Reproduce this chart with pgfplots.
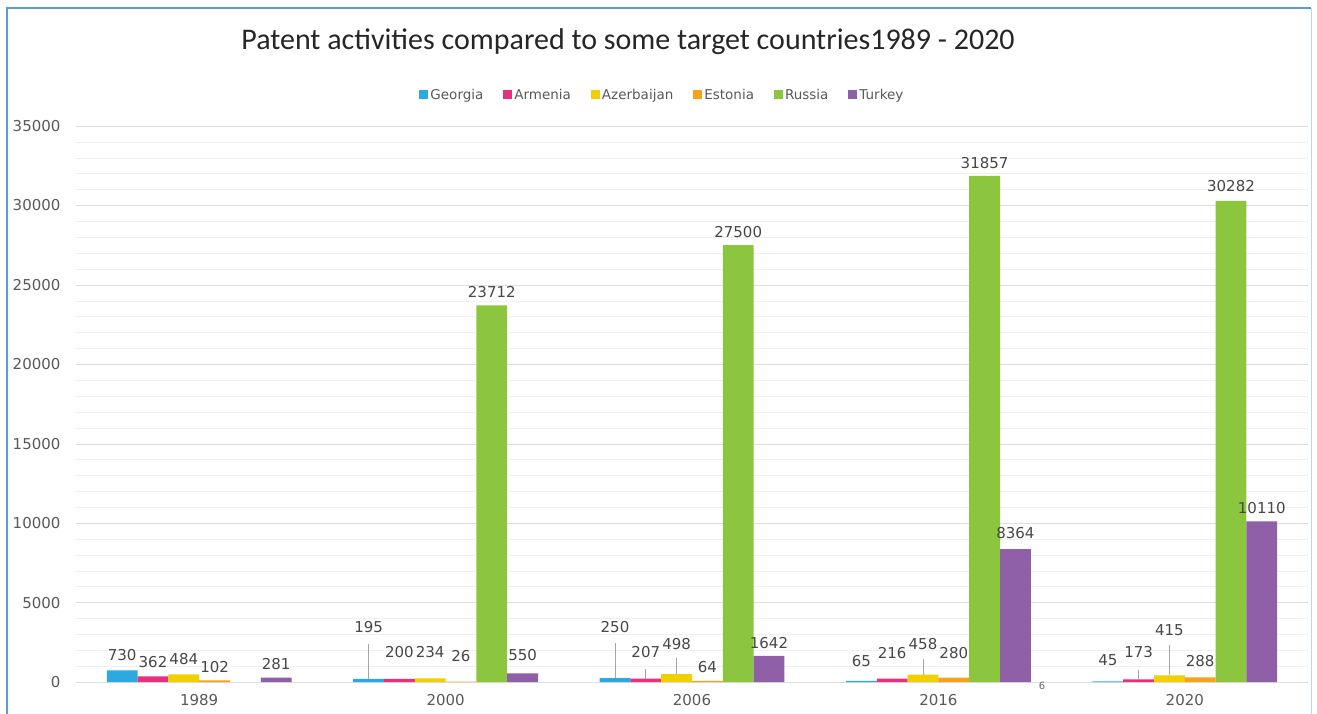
\documentclass[border=0pt]{standalone}
\usepackage{pgfplots}
\pgfplotsset{compat=1.18}
\usepackage{pgfplotstable}
\usepackage{fontspec}
\setmainfont{DejaVu Sans}
\newfontfamily\titlefont{Carlito}

\definecolor{cGeo}{HTML}{2CA9E1}
\definecolor{cArm}{HTML}{E6317E}
\definecolor{cAze}{HTML}{F0D000}
\definecolor{cEst}{HTML}{F7A21B}
\definecolor{cRus}{HTML}{8CC63F}
\definecolor{cTur}{HTML}{8F5FA8}
\definecolor{cFrame}{HTML}{5B9BD5}

% x y dy(label shift, pt) ll(leader line length, data units)
\pgfplotstableread{
x y dy ll
0 730 2 0
1 195 39 2200
2 250 38 2200
3 65 7 0
4 45 8 0
}\geo
\pgfplotstableread{
x y dy ll
0 362 1 0
1 200 14 0
2 207 13 600
3 216 12 0
4 173 14 600
}\arm
\pgfplotstableread{
x y dy ll
0 484 2 0
1 234 13 0
2 498 17 1000
3 458 17 1000
4 415 32 1900
}\aze
\pgfplotstableread{
x y dy ll
0 102 0 0
1 26 12 0
2 64 1 0
3 280 11 0
4 288 3 0
}\est
\pgfplotstableread{
x y dy ll
1 23712 0 0
2 27500 0 0
3 31857 0 0
4 30282 2 0
}\rus
\pgfplotstableread{
x y dy ll
0 281 0 0
1 550 5 0
2 1642 0 0
3 8364 3 0
4 10110 0 0
}\tur

\begin{document}
\begin{tikzpicture}
\useasboundingbox (0pt,0pt) rectangle (1317pt,713pt);
\fill[white] (0pt,0pt) rectangle (1317pt,713pt);
\draw[cFrame, line width=1.5pt] (7pt,-5pt) -- (7pt,705pt) -- (1311pt,705pt);
\draw[cFrame!40, line width=1pt] (1311pt,705pt) -- (1311pt,-5pt);
\node[font=\titlefont\fontsize{30}{34}\selectfont, text=black!85] at (628pt,671pt) {Patent activities compared to some target countries1989 - 2020};
\begin{axis}[
  at={(76pt,31pt)}, anchor=south west,
  scale only axis, width=1232pt, height=556pt,
  ybar=0pt, bar width=30.8pt,
  xmin=-0.5, xmax=4.5, ymin=0, ymax=35000,
  xtick={0,1,2,3,4}, xticklabels={1989,2000,2006,2016,2020},
  ytick={0,5000,...,35000}, minor y tick num=4,
  ymajorgrids, yminorgrids,
  major grid style={draw=black!13},
  minor grid style={draw=black!6},
  axis line style={draw=none},
  major tick length=0pt, minor tick length=0pt,
  scaled y ticks=false,
  ticklabel style={font=\fontsize{15}{17}\selectfont, text=black!65},
  xticklabel style={yshift=-9pt},
  yticklabel style={xshift=-12pt},
  /pgf/number format/.cd, fixed, precision=0, 1000 sep={}, assume math mode=true,
  /pgfplots/.cd,
  clip=false,
  visualization depends on={\thisrow{dy} \as \dy},
  nodes near coords={\pgfmathprintnumber{\pgfplotspointmeta}},
  every node near coord/.append style={font=\fontsize{15}{17}\selectfont, text=black!72, yshift={(\dy+4)*1pt}},
  error bars/y dir=plus, error bars/y explicit,
  error bars/error mark=none,
  error bars/error bar style={black!35, line width=0.7pt},
  legend columns=6,
  legend style={at={(0.476,1.056)}, anchor=center, draw=none, fill=none,
    font=\fontsize{13.5}{15}\selectfont, text=black!65,
    /tikz/every even column/.append style={column sep=18pt}},
  legend image code/.code={\fill[#1] (0pt,-4.5pt) rectangle (9pt,4.5pt);},
]
\addplot[fill=cGeo, draw=none] table[x=x,y=y,y error=ll] {\geo};
\addplot[fill=cArm, draw=none] table[x=x,y=y,y error=ll] {\arm};
\addplot[fill=cAze, draw=none] table[x=x,y=y,y error=ll] {\aze};
\addplot[fill=cEst, draw=none] table[x=x,y=y] {\est};
\addplot[fill=cRus, draw=none] table[x=x,y=y] {\rus};
\addplot[fill=cTur, draw=none] table[x=x,y=y] {\tur};
\legend{Georgia,Armenia,Azerbaijan,Estonia,Russia,Turkey}
\end{axis}
\node[font=\fontsize{10}{11}\selectfont, text=black!60] at (1042pt,27pt) {6};
\end{tikzpicture}
\end{document}
